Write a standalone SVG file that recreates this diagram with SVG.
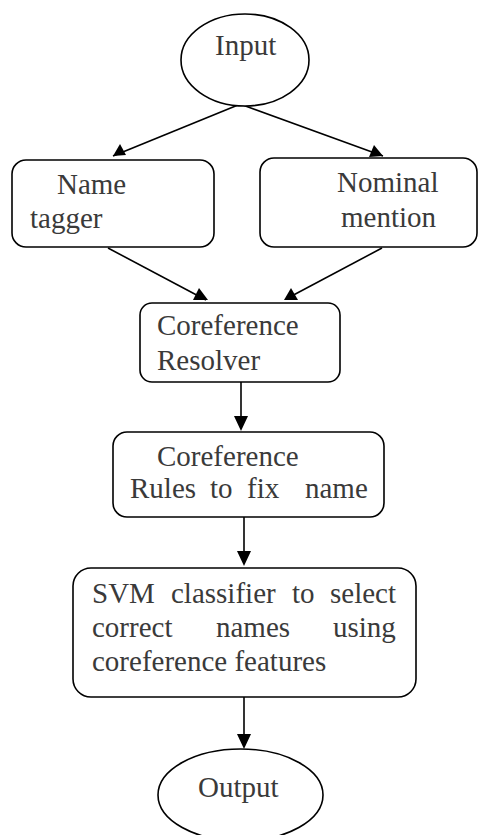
<svg xmlns="http://www.w3.org/2000/svg" width="480" height="835" viewBox="0 0 480 835">
  <style>
    .shape { fill: #ffffff; stroke: #000000; stroke-width: 1.6; }
    .label { font-family: "Liberation Serif", "Times New Roman", serif; font-size: 29px; fill: #3a3a3a; }
    .edge { stroke: #000000; stroke-width: 1.6; fill: none; marker-end: url(#arrow); }
  </style>
  <defs>
    <marker id="arrow" viewBox="0 0 10 10" refX="10" refY="5" markerWidth="10" markerHeight="10" markerUnits="userSpaceOnUse" orient="auto">
      <path d="M0,0 L10,5 L0,10 Z" fill="#000000"/>
    </marker>
  </defs>
  <rect width="480" height="835" fill="#ffffff"/>

  <g id="connectors">
    <line class="edge" x1="238" y1="105" x2="113" y2="156" style="marker-end:none"/>
    <path d="M113,156 L120,144 L126,155 Z" fill="#000"/>
    <line class="edge" x1="240" y1="104" x2="383" y2="156" style="marker-end:none"/>
    <path d="M383,156 L369,157 L374,145 Z" fill="#000"/>
    <line x1="108" y1="248" x2="206" y2="300" stroke="#000" stroke-width="1.6"/>
    <path d="M208,300 L193,300 L199,288 Z" fill="#000"/>
    <line x1="382" y1="248" x2="286" y2="299" stroke="#000" stroke-width="1.6"/>
    <path d="M284,300 L291,288 L298,300 Z" fill="#000"/>
    <line x1="241" y1="382" x2="241" y2="420" stroke="#000" stroke-width="1.6"/>
    <path d="M241,431 L234,416 L248,416 Z" fill="#000"/>
    <line x1="244" y1="517" x2="244" y2="552" stroke="#000" stroke-width="1.6"/>
    <path d="M244,566 L237,551 L251,551 Z" fill="#000"/>
    <line x1="244" y1="697" x2="244" y2="735" stroke="#000" stroke-width="1.6"/>
    <path d="M244,749 L237,734 L251,734 Z" fill="#000"/>
  </g>

  <g id="input">
    <ellipse class="shape" cx="245" cy="60" rx="64" ry="46"/>
    <text class="label" x="215" y="55">Input</text>
  </g>

  <g id="name-tagger">
    <rect class="shape" x="12" y="160" width="202" height="87" rx="14"/>
    <text class="label"><tspan x="57" y="194">Name</tspan><tspan x="30" y="228">tagger</tspan></text>
  </g>

  <g id="nominal-mention">
    <rect class="shape" x="260" y="158" width="217" height="89" rx="14"/>
    <text class="label"><tspan x="337" y="192">Nominal</tspan><tspan x="341" y="227">mention</tspan></text>
  </g>

  <g id="coreference-resolver">
    <rect class="shape" x="140" y="303" width="200" height="79" rx="12"/>
    <text class="label"><tspan x="157" y="335">Coreference</tspan><tspan x="157" y="370">Resolver</tspan></text>
  </g>

  <g id="coreference-rules">
    <rect class="shape" x="113" y="432" width="271" height="85" rx="14"/>
    <text class="label"><tspan x="157" y="466">Coreference</tspan></text>
    <text class="label"><tspan x="130" y="498">Rules</tspan><tspan x="210" y="498">to</tspan><tspan x="247" y="498">fix</tspan><tspan x="305" y="498">name</tspan></text>
  </g>

  <g id="svm-classifier">
    <rect class="shape" x="73" y="568" width="343" height="129" rx="18"/>
    <text class="label"><tspan x="92" y="603">SVM</tspan><tspan x="171" y="603">classifier</tspan><tspan x="292" y="603">to</tspan><tspan x="330" y="603">select</tspan></text>
    <text class="label"><tspan x="92" y="637">correct</tspan><tspan x="216" y="637">names</tspan><tspan x="333" y="637">using</tspan></text>
    <text class="label" x="92" y="671">coreference features</text>
  </g>

  <g id="output">
    <ellipse class="shape" cx="240.5" cy="795" rx="82.5" ry="46"/>
    <text class="label" x="198" y="797">Output</text>
  </g>
</svg>
